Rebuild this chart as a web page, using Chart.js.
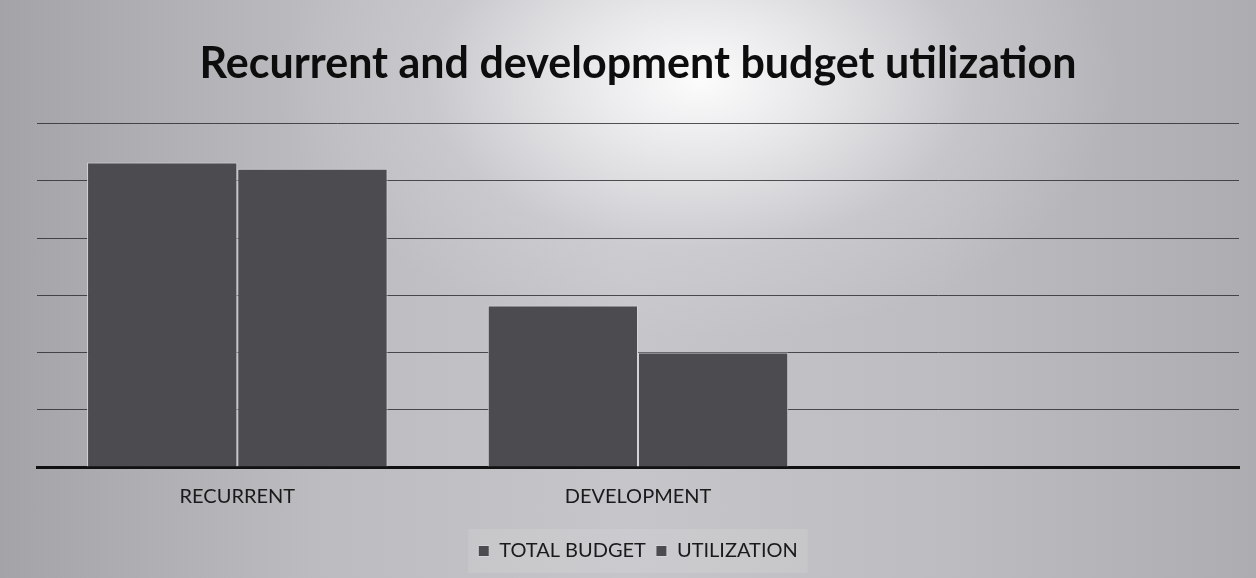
<!DOCTYPE html>
<html>
<head>
<meta charset="utf-8">
<script src="https://cdn.jsdelivr.net/npm/chart.js@4/dist/chart.umd.min.js"></script>
<style>
  html,body{margin:0;padding:0;}
  body{width:1256px;height:578px;overflow:hidden;
    background:
      radial-gradient(ellipse 420px 260px at 700px 80px, rgba(255,255,255,0.95) 0%, rgba(245,245,247,0.7) 30%, rgba(220,220,224,0.3) 65%, rgba(200,200,204,0) 100%),
      linear-gradient(90deg, #a4a4a8 0%, #bcbcc0 25%, #c6c6ca 50%, #bdbdc1 75%, #adadb1 100%);
  }
  #wrap{position:relative;width:1256px;height:578px;}
</style>
</head>
<body>
<div id="wrap"><canvas id="c" width="1256" height="578"></canvas></div>
<script>
const categories = ['RECURRENT', 'DEVELOPMENT', ''];
const totalBudget = [5.32, 2.82, null];
const utilization = [5.21, 2.00, null];
const seriesNames = ['TOTAL BUDGET', 'UTILIZATION'];
const titleText = 'Recurrent and development budget utilization';

const barColor = '#4b4b50';
const FONT = 'Lato, "Open Sans", sans-serif';

const legendBg = {
  id: 'legendBg',
  beforeDraw(chart) {
    const lg = chart.legend;
    if (!lg || !lg.legendHitBoxes || !lg.legendHitBoxes.length) return;
    const hb = lg.legendHitBoxes;
    const l = Math.min(...hb.map(h => h.left)) - 10;
    const r = Math.max(...hb.map(h => h.left + h.width)) + 10;
    const t = Math.min(...hb.map(h => h.top)) - 12;
    const b = Math.max(...hb.map(h => h.top + h.height)) + 12;
    const ctx = chart.ctx;
    ctx.save();
    ctx.fillStyle = 'rgba(255,255,255,0.10)';
    ctx.fillRect(l, t, r - l, b - t);
    ctx.restore();
  }
};

new Chart(document.getElementById('c'), {
  type: 'bar',
  data: {
    labels: categories,
    datasets: [
      { label: seriesNames[0], data: totalBudget, backgroundColor: barColor,
        borderColor: '#d4d4d8', borderWidth: 1, borderSkipped: 'bottom' },
      { label: seriesNames[1], data: utilization, backgroundColor: barColor,
        borderColor: '#d4d4d8', borderWidth: 1, borderSkipped: 'bottom' }
    ]
  },
  plugins: [legendBg],
  options: {
    responsive: false,
    animation: false,
    devicePixelRatio: 1,
    layout: { padding: { left: 37, right: 17, top: 38, bottom: 7 } },
    datasets: { bar: { categoryPercentage: 0.75, barPercentage: 1.0 } },
    scales: {
      x: {
        grid: { display: false, drawTicks: false },
        border: { display: true, color: '#111', width: 3 },
        ticks: { color: '#1a1a1a', font: { family: FONT, size: 20 }, padding: 18 },
        afterFit: (scale) => { scale.height += 4; }
      },
      y: {
        min: 0, max: 6,
        ticks: { display: false, stepSize: 1 },
        grid: { color: 'rgba(40,40,45,0.8)', lineWidth: 1, drawTicks: false },
        border: { display: false }
      }
    },
    plugins: {
      title: {
        display: true, text: titleText, color: '#0d0d0d',
        font: { family: FONT, size: 43, weight: 'bold' },
        padding: { top: 0, bottom: 34 }
      },
      legend: {
        position: 'bottom',
        labels: {
          color: '#1a1a1a', font: { family: FONT, size: 20 },
          boxWidth: 11, boxHeight: 11, padding: 10, useBorderRadius: false
        }
      },
      tooltip: { enabled: false }
    }
  }
});
</script>
</body>
</html>
